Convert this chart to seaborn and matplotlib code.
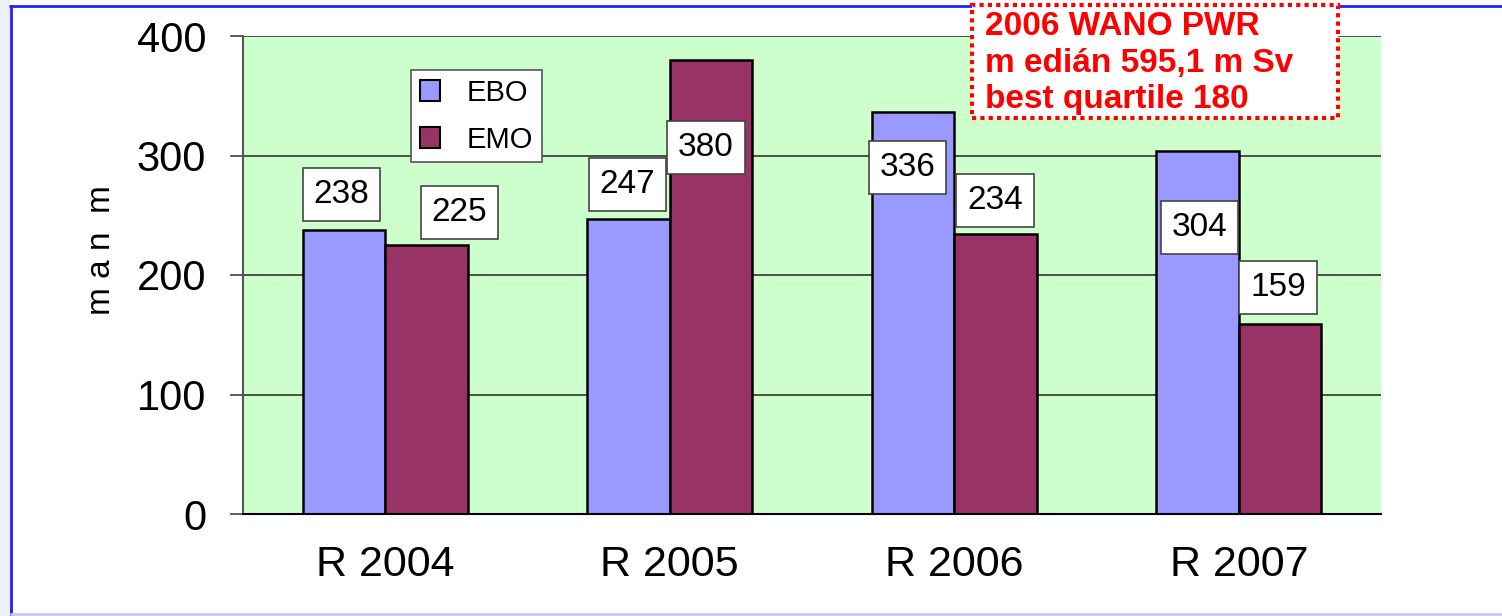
import matplotlib
matplotlib.use("Agg")
import matplotlib.pyplot as plt
import seaborn as sns
import pandas as pd
from matplotlib.patches import Rectangle, Patch
from matplotlib.lines import Line2D

# ---------------- data ----------------
categories = ["R 2004", "R 2005", "R 2006", "R 2007"]
ebo_values = [238, 247, 336, 304]
emo_values = [225, 380, 234, 159]
series_names = ["EBO", "EMO"]
y_ticks = [0, 100, 200, 300, 400]
note_lines = ["2006 WANO PWR", "m edián 595,1 m Sv", "best quartile 180"]
y_label = "m a n  m"

# label offsets (points) relative to the bar top, per series / category
label_offsets = {
    "EBO": [(-1.8, 25.2), (-0.7, 24.5), (-4.0, -39.6), (1.4, -55.4)],
    "EMO": [(23.8, 23.8), (-3.6, -63.4), (-0.4, 24.5), (-1.4, 26.6)],
}

df = pd.DataFrame({
    "cat": categories * 2,
    "val": ebo_values + emo_values,
    "series": [series_names[0]] * len(categories) + [series_names[1]] * len(categories),
})

colors = {"EBO": "#9999FF", "EMO": "#993366"}

sns.set_theme(style="white")
plt.rcParams["font.family"] = ["Liberation Sans", "DejaVu Sans"]
plt.rcParams["text.color"] = "black"
plt.rcParams["xtick.color"] = "black"
plt.rcParams["ytick.color"] = "black"

W, H = 1502, 616
fig = plt.figure(figsize=(W / 100, H / 100), dpi=100)
fig.patch.set_facecolor("white")

ax = fig.add_axes([243 / W, 1 - 514 / H, (1381 - 243) / W, (514 - 36) / H])
ax.set_facecolor("#CCFFCC")

sns.barplot(data=df, x="cat", y="val", hue="series", palette=colors,
            order=categories, hue_order=series_names, width=0.58, gap=0,
            saturation=1, edgecolor="black", linewidth=1.8, legend=False,
            ax=ax, zorder=3)

ax.set_ylim(0, 400)
ax.set_xlim(-0.5, len(categories) - 0.5)
ax.set_yticks(y_ticks)
ax.set_yticklabels([str(t) for t in y_ticks], fontsize=30)
ax.set_xticks(range(len(categories)))
ax.set_xticklabels(categories, fontsize=31)
ax.set_xticks([i - 0.5 for i in range(len(categories) + 1)], minor=True)
ax.tick_params(axis="x", which="major", length=0, pad=22, labelcolor="black")
ax.tick_params(axis="x", which="minor", length=6, width=2, color="#777777", direction="out")
ax.tick_params(axis="y", which="major", length=9.5, width=1.2, color="#444444",
               direction="out", pad=17, left=True, labelcolor="black")
ax.set_xlabel("")
ax.set_ylabel("")

ax.grid(False)
for yv in y_ticks[1:]:
    ax.axhline(yv, color="#333333", lw=1.2, zorder=1)

for s in ["top", "right"]:
    ax.spines[s].set_visible(False)
ax.spines["left"].set_color("#555555")
ax.spines["left"].set_linewidth(1.5)
ax.spines["bottom"].set_color("black")
ax.spines["bottom"].set_linewidth(1.5)
ax.spines["left"].set_zorder(4)
ax.spines["bottom"].set_zorder(4)

# value labels
containers = ax.containers
for ci, name in enumerate(series_names):
    for bi, bar in enumerate(containers[ci]):
        x = bar.get_x() + bar.get_width() / 2
        y = bar.get_height()
        dx, dy = label_offsets[name][bi]
        ax.annotate(f"{int(round(y))}", xy=(x, y), xytext=(dx, dy),
                    textcoords="offset points", ha="center", va="center",
                    fontsize=24, color="black", zorder=6,
                    bbox=dict(boxstyle="square,pad=0.33", fc="white",
                              ec="#444444", lw=1.2))

# legend
handles = [Patch(facecolor=colors[n], edgecolor="black", lw=1.5, label=n) for n in series_names]
leg = fig.legend(handles=handles, loc="upper left",
                 bbox_to_anchor=(411 / W, 1 - 70 / H), fontsize=21,
                 frameon=True, fancybox=False, handlelength=0.7, handleheight=0.7,
                 handletextpad=0.9, labelspacing=0.65, borderpad=0.3,
                 borderaxespad=0)
leg.get_frame().set_edgecolor("#555555")
leg.get_frame().set_linewidth(1.2)
leg.get_frame().set_facecolor("white")
leg.get_frame().set_alpha(1)

# y label
fig.text(101 / W, 1 - 250 / H, y_label, rotation=90, ha="center", va="center",
         fontsize=24, color="black")

# note box
fig.patches.append(Rectangle((972 / W, 1 - 118 / H), 366 / W, 113 / H,
                             transform=fig.transFigure, fc="white", ec="#FF0000",
                             lw=3, ls=(0, (1, 1)), zorder=5))
for txt, base in zip(note_lines, [35, 72, 108]):
    fig.text(985 / W, 1 - base / H, txt, ha="left", va="baseline",
             fontsize=24, fontweight="bold", color="#FF0000", zorder=6)

# slide frame decorations
fig.patches.append(Rectangle((0, 0), 10 / W, 1, transform=fig.transFigure,
                             fc="#EEF0F8", ec="none", zorder=0))
fig.lines.append(Line2D([10 / W, 1], [1 - 6 / H, 1 - 6 / H], transform=fig.transFigure,
                        color="#2020FF", lw=2))
fig.lines.append(Line2D([11 / W, 11 / W], [1 - 6 / H, 1 - 615 / H], transform=fig.transFigure,
                        color="#2020FF", lw=2))
fig.lines.append(Line2D([11 / W, 1], [1 - 614 / H, 1 - 614 / H], transform=fig.transFigure,
                        color="#C8C8F0", lw=2))

fig.savefig("out.png", dpi=100)
